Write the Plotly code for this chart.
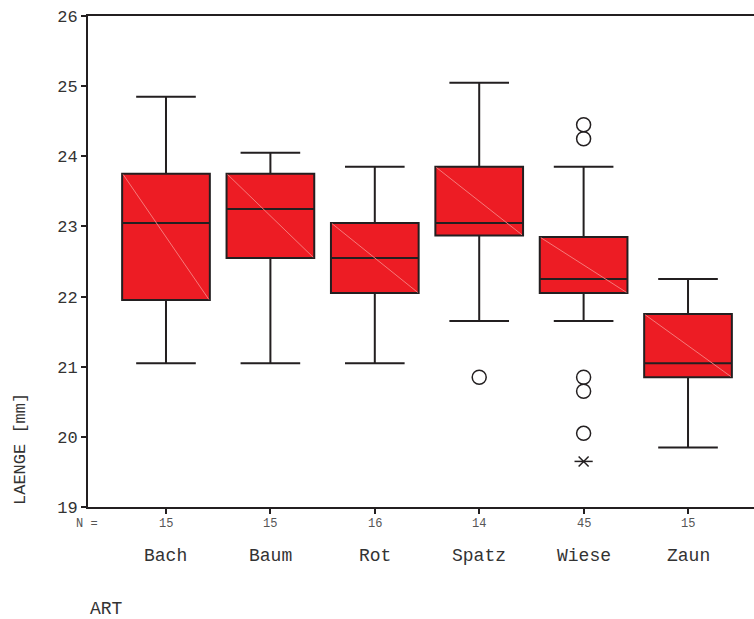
import plotly.graph_objects as go

categories = ["Bach", "Baum", "Rot", "Spatz", "Wiese", "Zaun"]
n_counts = [15, 15, 16, 14, 45, 15]
lower_whisker = [21.05, 21.05, 21.05, 21.65, 21.65, 19.85]
q1_vals = [21.95, 22.55, 22.05, 22.87, 22.05, 20.85]
median_vals = [23.05, 23.25, 22.55, 23.05, 22.25, 21.05]
q3_vals = [23.75, 23.75, 23.05, 23.85, 22.85, 21.75]
upper_whisker = [24.85, 24.05, 23.85, 25.05, 23.85, 22.25]
outlier_cat = ["Spatz", "Wiese", "Wiese", "Wiese", "Wiese", "Wiese"]
outlier_vals = [20.85, 24.45, 24.25, 20.85, 20.65, 20.05]
extreme_cat = ["Wiese"]
extreme_vals = [19.65]
y_ticks = [19, 20, 21, 22, 23, 24, 25, 26]

FONT = "Courier New, Liberation Mono, monospace"
INK = "#231F20"
TXT = "#333333"
RED = "#ED1C24"
BOX_W = 0.84

pos = list(range(len(categories)))
idx = {c: i for i, c in enumerate(categories)}

fig = go.Figure()
fig.add_trace(go.Box(
    x=pos, q1=q1_vals, median=median_vals, q3=q3_vals,
    lowerfence=lower_whisker, upperfence=upper_whisker,
    width=BOX_W, whiskerwidth=0.68, boxpoints=False,
    fillcolor=RED, line=dict(color=INK, width=2),
    hoverinfo="skip", showlegend=False,
))

fig.add_trace(go.Scatter(
    x=[idx[c] for c in outlier_cat], y=outlier_vals, mode="markers",
    marker=dict(symbol="circle-open", size=14, color=INK, line=dict(width=1.5, color=INK)),
    showlegend=False, hoverinfo="skip",
))
for sym in ["x-thin-open", "line-ew-open"]:
    fig.add_trace(go.Scatter(
        x=[idx[c] for c in extreme_cat], y=extreme_vals, mode="markers",
        marker=dict(symbol=sym, size=10 if sym == "x-thin-open" else 13, color=INK,
                    line=dict(width=1.5, color=INK)),
        showlegend=False, hoverinfo="skip",
    ))

shapes = []
for i in pos:
    shapes.append(dict(type="line", xref="x", yref="y",
                       x0=i - BOX_W / 2 + 0.01, y0=q3_vals[i] - 0.01,
                       x1=i + BOX_W / 2 - 0.01, y1=q1_vals[i] + 0.01,
                       line=dict(color="#F57A7A", width=1), layer="above"))

annotations = []
for i, c in enumerate(categories):
    annotations.append(dict(x=i, y=0, xref="x", yref="paper", text=c, showarrow=False,
                            yanchor="middle", yshift=-49, font=dict(family=FONT, size=18, color=TXT)))
    annotations.append(dict(x=i, y=0, xref="x", yref="paper", text=str(n_counts[i]), showarrow=False,
                            yanchor="middle", yshift=-17, font=dict(family=FONT, size=12, color="#555555")))
annotations.append(dict(x=0, y=0, xref="paper", yref="paper", text="N =", showarrow=False,
                        xanchor="left", yanchor="middle", xshift=-14, yshift=-17,
                        font=dict(family=FONT, size=12, color="#555555")))
annotations.append(dict(x=0, y=0, xref="paper", yref="paper", text="ART", showarrow=False,
                        xanchor="left", yanchor="middle", yshift=-102,
                        font=dict(family=FONT, size=18, color=TXT)))
annotations.append(dict(x=0, y=0, xref="paper", yref="paper", text="LAENGE [mm]", showarrow=False,
                        textangle=-90, xanchor="center", yanchor="bottom", xshift=-68, yshift=0,
                        font=dict(family=FONT, size=17, color=TXT)))

fig.update_layout(
    width=754, height=619,
    margin=dict(l=88, r=0, t=16, b=112),
    paper_bgcolor="white", plot_bgcolor="white",
    shapes=shapes, annotations=annotations,
    xaxis=dict(range=[-0.747, 5.632], tickvals=pos, ticktext=[""] * len(pos),
               showgrid=False, zeroline=False, showline=True, linecolor=INK, linewidth=2,
               mirror=True, ticks="outside", ticklen=5, tickcolor=INK, tickwidth=1.5),
    yaxis=dict(range=[19, 26], tickvals=y_ticks, showgrid=False, zeroline=False,
               showline=True, linecolor=INK, linewidth=2, ticks="outside", ticklen=5,
               tickcolor=INK, tickwidth=1.5, tickfont=dict(family=FONT, size=17, color=TXT)),
)

fig.write_html("out.html", config={"displayModeBar": False},
               post_script="document.body.style.margin='0';document.body.style.overflow='hidden';")
